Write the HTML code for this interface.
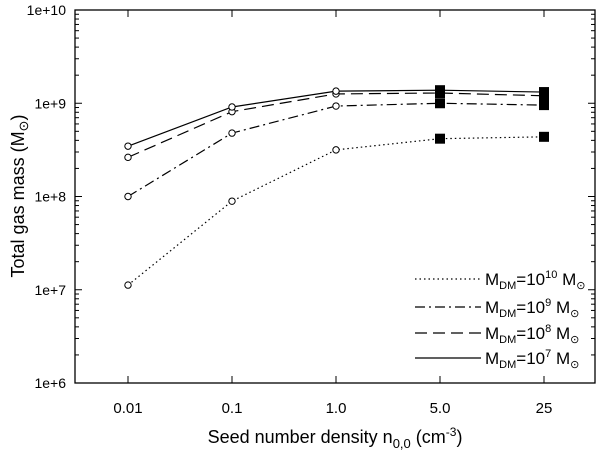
<!DOCTYPE html>
<html><head><meta charset="utf-8"><style>
body{margin:0;background:#fff;}
svg{display:block;font-family:"Liberation Sans",sans-serif;}
</style></head><body>
<svg id="chart" width="600" height="453"></svg>
<script>
const categories=["0.01","0.1","1.0","5.0","25"];
const yTickLabels=["1e+6","1e+7","1e+8","1e+9","1e+10"];
const seriesNames=["10","9","8","7"];
const logM10=[7.05,7.95,8.50,8.62,8.64];
const logM9=[8.0,8.68,8.97,9.0,8.98];
const logM8=[8.42,8.91,9.10,9.11,9.08];
const logM7=[8.54,8.96,9.13,9.14,9.12];
const dashes=["1.5,3","10,4,2,4","12,6",""];
const NS="http://www.w3.org/2000/svg";
const svg=document.getElementById('chart');
const L=75,R=595,T=10,B=383;
function xs(i){return 128+i*104;}
function ys(v){return B-(v-6)*(B-T)/4;}
function mk(t,a,p){const e=document.createElementNS(NS,t);for(const k in a)e.setAttribute(k,a[k]);(p||svg).appendChild(e);return e;}
const frame=mk('rect',{x:L,y:T,width:R-L,height:B-T,fill:'none',stroke:'#000','stroke-width':1.3});


for(let d=0;d<5;d++){
  const y=ys(6+d);
  const t=mk('text',{x:L-9,y:y+5,'text-anchor':'end','font-size':14});
  t.textContent=yTickLabels[d];
  
  
  mk('line',{x1:L,x2:L+7,y1:y,y2:y,stroke:'#000'});
  mk('line',{x1:R,x2:R-7,y1:y,y2:y,stroke:'#000'});
  if(d<4)for(let m=2;m<10;m++){
    const yy=ys(6+d+Math.log10(m));
    mk('line',{x1:L,x2:L+4,y1:yy,y2:yy,stroke:'#000'});
    mk('line',{x1:R,x2:R-4,y1:yy,y2:yy,stroke:'#000'});
  }
}
categories.forEach((c,i)=>{
  const x=xs(i);
  mk('line',{x1:x,x2:x,y1:B,y2:B-7,stroke:'#000'});
  mk('line',{x1:x,x2:x,y1:T,y2:T+7,stroke:'#000'});
  const t=mk('text',{x:x,y:B+30,'text-anchor':'middle','font-size':15});
  t.textContent=c;
  
  
});
const allSeries=[logM10,logM9,logM8,logM7];
allSeries.forEach((s,k)=>{
  const pts=s.map((v,i)=>xs(i)+','+ys(v)).join(' ');
  const pl=mk('polyline',{points:pts,fill:'none',stroke:'#000','stroke-width':1.2,'stroke-dasharray':dashes[k]});
  
  
  s.forEach((v,i)=>{
    let m;
    if(i<3){m=mk('circle',{cx:xs(i),cy:ys(v),r:3.2,fill:'#fff',stroke:'#000','stroke-width':1});}
    else{m=mk('rect',{x:xs(i)-5,y:ys(v)-5,width:10,height:10,fill:'#000'});}
    
    
  });
});
const legY=[279,307,333,358];
seriesNames.forEach((n,k)=>{
  const y=legY[k];
  const ln=mk('line',{x1:415,x2:481,y1:y,y2:y,stroke:'#000','stroke-width':1.2,'stroke-dasharray':dashes[k]});
  
  
  const t=mk('text',{x:485,y:y+6,'font-size':17});
  t.innerHTML='M<tspan font-size="11" dy="4">DM</tspan><tspan dy="-4">=10</tspan><tspan font-size="11" dy="-7">'+n+'</tspan><tspan dy="7"> M</tspan><tspan font-size="11" dy="4">⊙</tspan>';
  
  
});
const xt=mk('text',{x:335,y:443,'text-anchor':'middle','font-size':18});
xt.innerHTML='Seed number density n<tspan font-size="13" dy="5">0,0</tspan><tspan dy="-5"> (cm</tspan><tspan font-size="12" dy="-7">-3</tspan><tspan dy="7">)</tspan>';


const yt=mk('text',{x:0,y:0,'text-anchor':'middle','font-size':18,transform:'translate(24,196) rotate(-90)'});
yt.innerHTML='Total gas mass (M<tspan font-size="13" dy="4">⊙</tspan><tspan dy="-4">)</tspan>';


</script>
</body></html>
